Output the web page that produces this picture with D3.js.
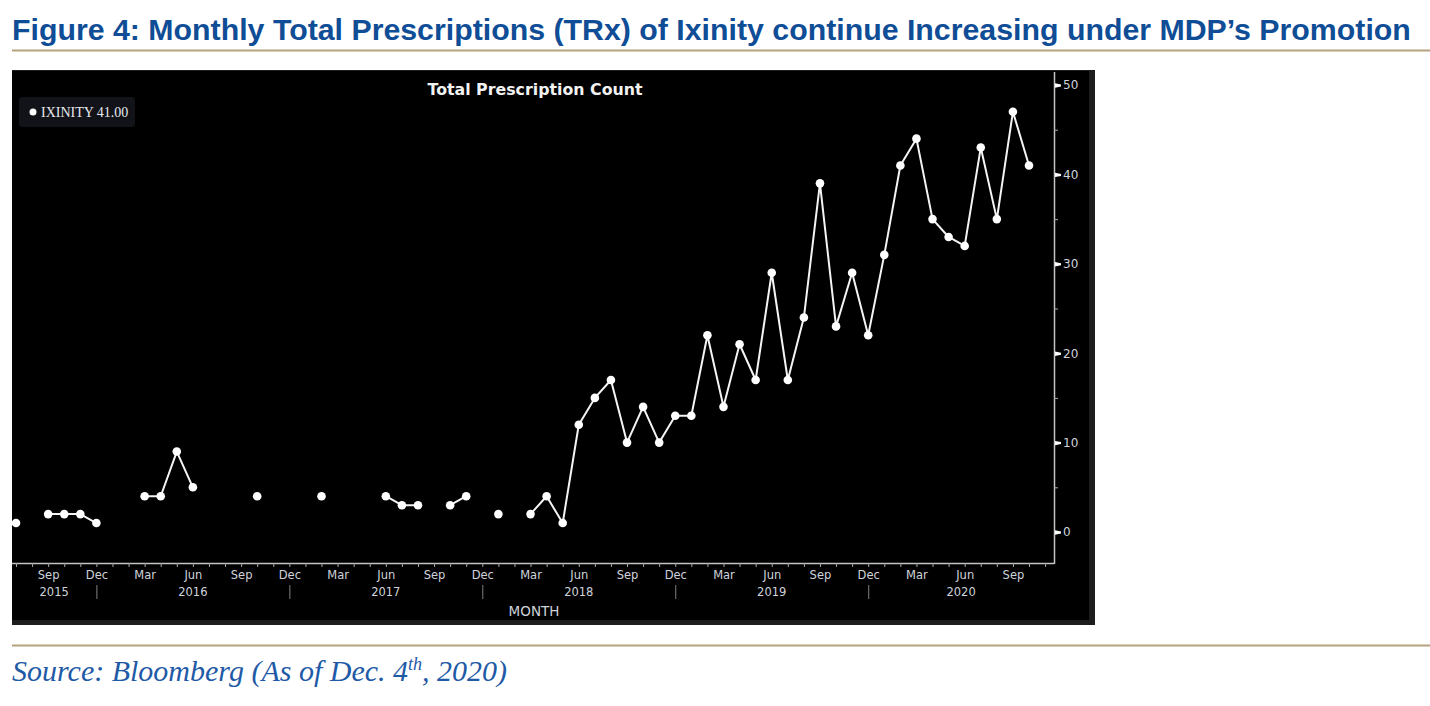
<!DOCTYPE html>
<html>
<head>
<meta charset="utf-8">
<script src="https://cdn.jsdelivr.net/npm/d3@7/dist/d3.min.js"></script>
<style>
  html, body { margin: 0; padding: 0; background: #ffffff; }
  svg { display: block; }
</style>
</head>
<body>
<svg id="chart" width="1430" height="706"></svg>
<script>
// ---------------- DATA ----------------
const months = [
  "2015-07","2015-08","2015-09","2015-10","2015-11","2015-12",
  "2016-01","2016-02","2016-03","2016-04","2016-05","2016-06","2016-07","2016-08","2016-09","2016-10","2016-11","2016-12",
  "2017-01","2017-02","2017-03","2017-04","2017-05","2017-06","2017-07","2017-08","2017-09","2017-10","2017-11","2017-12",
  "2018-01","2018-02","2018-03","2018-04","2018-05","2018-06","2018-07","2018-08","2018-09","2018-10","2018-11","2018-12",
  "2019-01","2019-02","2019-03","2019-04","2019-05","2019-06","2019-07","2019-08","2019-09","2019-10","2019-11","2019-12",
  "2020-01","2020-02","2020-03","2020-04","2020-05","2020-06","2020-07","2020-08","2020-09","2020-10"
];
const trx = [
  1, null, 2, 2, 2, 1,
  null, null, 4, 4, 9, 5, null, null, null, 4, null, null,
  null, 4, null, null, null, 4, 3, 3, null, 3, 4, null,
  2, null, 2, 4, 1, 12, 15, 17, 10, 14, 10, 13,
  13, 22, 14, 21, 17, 29, 17, 24, 39, 23, 29, 22,
  31, 41, 44, 35, 33, 32, 43, 35, 47, 41
];
const yTicks = [0, 10, 20, 30, 40, 50];
const yMinorTicks = [5, 15, 25, 35, 45];
const monthLabelNames = {3: "Mar", 6: "Jun", 9: "Sep", 12: "Dec"};
const years = ["2015", "2016", "2017", "2018", "2019", "2020"];
const seriesName = "IXINITY";
const lastValueLabel = "41.00";

const headerText = "Figure 4: Monthly Total Prescriptions (TRx) of Ixinity continue Increasing under MDP\u2019s Promotion";
const chartTitle = "Total Prescription Count";
const xAxisTitle = "MONTH";

// ---------------- LAYOUT ----------------
const svg = d3.select("#chart");
const panel = {x0: 12, y0: 70, x1: 1095, y1: 625};
const plot = {left: 12, right: 1054, top: 72, bottom: 563};
const labelColor = "#cfd3dc";
const labelFont = "DejaVu Sans, sans-serif";

const x = d3.scaleLinear().domain([0, months.length - 1]).range([16, 1029]);
const y = d3.scaleLinear().domain([0, 50]).range([532, 85]);

// Header
svg.append("text")
  .attr("x", 12).attr("y", 40)
  .attr("font-family", "Liberation Sans, Arial, sans-serif")
  .attr("font-weight", "bold")
  .attr("font-size", 30.3)
  .attr("fill", "#0f4d96")
  .text(headerText);

svg.append("line")
  .attr("x1", 12).attr("x2", 1430).attr("y1", 50.5).attr("y2", 50.5)
  .attr("stroke", "#b4a37c").attr("stroke-width", 2);

// Panel background
svg.append("rect")
  .attr("x", panel.x0).attr("y", panel.y0)
  .attr("width", panel.x1 - panel.x0).attr("height", panel.y1 - panel.y0)
  .attr("fill", "#1d1d1d");
svg.append("rect")
  .attr("x", panel.x0).attr("y", panel.y0 + 1)
  .attr("width", 1089 - panel.x0).attr("height", 620 - panel.y0 - 1)
  .attr("fill", "#000000");

// Chart title
svg.append("text")
  .attr("x", 535).attr("y", 95)
  .attr("text-anchor", "middle")
  .attr("font-family", labelFont)
  .attr("font-weight", "bold")
  .attr("font-size", 15.8)
  .attr("fill", "#f2f2f2")
  .text(chartTitle);

// Legend
const lg = svg.append("g");
lg.append("rect")
  .attr("x", 19).attr("y", 97).attr("width", 116).attr("height", 30)
  .attr("rx", 3).attr("fill", "#111318");
lg.append("circle").attr("cx", 33).attr("cy", 112).attr("r", 3.5).attr("fill", "#ffffff");
lg.append("text")
  .attr("x", 41).attr("y", 116.5)
  .attr("font-family", "Liberation Serif, serif")
  .attr("font-size", 14)
  .attr("fill", "#e8e8ee")
  .text(seriesName + " " + lastValueLabel);

// Axes lines
const axisColor = "#c4c4c4";
svg.append("line")
  .attr("x1", plot.left).attr("x2", plot.right)
  .attr("y1", plot.bottom + 0.5).attr("y2", plot.bottom + 0.5)
  .attr("stroke", axisColor).attr("stroke-width", 1.5);
svg.append("line")
  .attr("x1", plot.right + 0.5).attr("x2", plot.right + 0.5)
  .attr("y1", plot.top).attr("y2", plot.bottom + 1)
  .attr("stroke", axisColor).attr("stroke-width", 1.5);

// Y axis ticks via d3 axis
const yAxis = d3.axisRight(y).tickValues(yTicks).tickSize(0).tickPadding(9).tickFormat(d3.format("d"));
const yg = svg.append("g").attr("transform", `translate(${plot.right},0)`).call(yAxis);
yg.select(".domain").remove();
yg.selectAll("text")
  .attr("font-family", labelFont)
  .attr("font-size", 12)
  .attr("fill", labelColor);
yg.selectAll(".tick").append("path")
  .attr("d", "M1,-2.2 L7,-1 L7,1 L1,2.2 Z")
  .attr("fill", "#ffffff");
const yMinor = svg.append("g").attr("transform", `translate(${plot.right},0)`)
  .call(d3.axisRight(y).tickValues(yMinorTicks).tickSize(4).tickFormat(""));
yMinor.select(".domain").remove();
yMinor.selectAll("line").attr("stroke", "#aaaaaa");

// X axis month ticks
const tickIdx = d3.range(0, months.length + 1);
const xg = svg.append("g").attr("transform", `translate(0,${plot.bottom})`)
  .call(d3.axisBottom(x).tickValues(tickIdx).tickSize(4).tickFormat(""));
xg.select(".domain").remove();
xg.selectAll("line").attr("stroke", "#aaaaaa");

// Month labels
const monthNum = i => (6 + i) % 12 + 1; // index 0 -> July
const labelIdx = tickIdx.filter(i => monthLabelNames[monthNum(i)] && i < months.length);
const xl = svg.append("g").attr("transform", `translate(0,${plot.bottom})`)
  .call(d3.axisBottom(x).tickValues(labelIdx).tickSize(0).tickPadding(8)
    .tickFormat(i => monthLabelNames[monthNum(i)]));
xl.select(".domain").remove();
xl.selectAll("text")
  .attr("font-family", labelFont)
  .attr("font-size", 11.5)
  .attr("fill", labelColor);

// Year separators at December
const decIdx = tickIdx.filter(i => monthNum(i) === 12 && i < months.length);
svg.append("g").selectAll("line").data(decIdx).join("line")
  .attr("x1", d => x(d) + 0.5).attr("x2", d => x(d) + 0.5)
  .attr("y1", 585).attr("y2", 599)
  .attr("stroke", "#808080").attr("stroke-width", 1);

// Year labels centered between separators
const bounds = [plot.left].concat(decIdx.map(d => x(d))).concat([plot.right]);
svg.append("g").selectAll("text").data(years).join("text")
  .attr("x", (d, i) => (bounds[i] + bounds[i + 1]) / 2)
  .attr("y", 595.5)
  .attr("text-anchor", "middle")
  .attr("font-family", labelFont)
  .attr("font-size", 11.5)
  .attr("fill", labelColor)
  .text(d => d);

svg.append("text")
  .attr("x", 534).attr("y", 616)
  .attr("text-anchor", "middle")
  .attr("font-family", labelFont)
  .attr("font-size", 13.5)
  .attr("fill", labelColor)
  .text(xAxisTitle);

// Line + points
const pts = months.map((m, i) => ({i, v: trx[i]}));
const line = d3.line().defined(d => d.v !== null).x(d => x(d.i)).y(d => y(d.v));
svg.append("path")
  .datum(pts)
  .attr("d", line)
  .attr("fill", "none")
  .attr("stroke", "#f4f4f4")
  .attr("stroke-width", 2)
  .attr("stroke-linejoin", "round");
svg.append("g").selectAll("circle").data(pts.filter(d => d.v !== null)).join("circle")
  .attr("cx", d => x(d.i)).attr("cy", d => y(d.v))
  .attr("r", 4.3)
  .attr("fill", "#ffffff");

// Bottom rule and source
svg.append("line")
  .attr("x1", 12).attr("x2", 1430).attr("y1", 645.5).attr("y2", 645.5)
  .attr("stroke", "#b4a37c").attr("stroke-width", 2);

const src = svg.append("text")
  .attr("x", 12).attr("y", 681)
  .attr("font-family", "Liberation Serif, serif")
  .attr("font-style", "italic")
  .attr("font-size", 30)
  .attr("fill", "#1f5aa6");
src.append("tspan").text("Source: Bloomberg (As of Dec. 4");
src.append("tspan").attr("font-size", 18).attr("dy", -11).text("th");
src.append("tspan").attr("dy", 11).text(", 2020)");
</script>
</body>
</html>
